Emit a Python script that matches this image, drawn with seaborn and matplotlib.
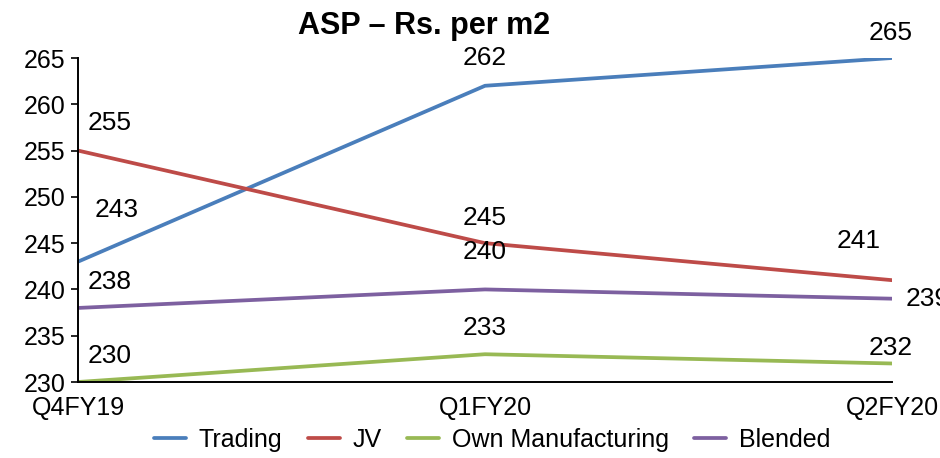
import pandas as pd
import matplotlib
matplotlib.use("Agg")
import matplotlib.pyplot as plt
import seaborn as sns

# chart data
quarters = ["Q4FY19", "Q1FY20", "Q2FY20"]
trading = [243, 262, 265]
jv = [255, 245, 241]
own_mfg = [230, 233, 232]
blended = [238, 240, 239]
series_names = ["Trading", "JV", "Own Manufacturing", "Blended"]
colors = ["#4a7ebb", "#be4b48", "#98b954", "#7d60a0"]

rows = []
for name, vals in zip(series_names, [trading, jv, own_mfg, blended]):
    for i, q in enumerate(quarters):
        rows.append({"quarter": q, "pos": i, "value": vals[i], "series": name})
df = pd.DataFrame(rows)

sns.set_style("white")
plt.rcParams["font.family"] = ["Liberation Sans", "DejaVu Sans"]
plt.rcParams["text.color"] = "black"
plt.rcParams["xtick.color"] = "black"
plt.rcParams["ytick.color"] = "black"

fig = plt.figure(figsize=(9.4, 4.58), dpi=100)
ax = fig.add_axes([78 / 940, 1 - 382 / 458, 814 / 940, 324 / 458])

sns.lineplot(data=df, x="pos", y="value", hue="series", hue_order=series_names,
             palette=colors, linewidth=2.7, ax=ax, legend=True)

# data labels: offset (points) of each label from its point
offsets = {
    "Trading": [(28, 37), (0, 20), (-1, 18)],
    "JV": [(23, 20), (0, 18), (-24, 28)],
    "Own Manufacturing": [(23, 19), (0, 19), (-1, 11)],
    "Blended": [(23, 19), (0, 27), (10, 0)],
}
for name, vals in zip(series_names, [trading, jv, own_mfg, blended]):
    for i, v in enumerate(vals):
        dx, dy = offsets[name][i]
        ha = "left" if (name == "Blended" and i == 2) else "center"
        ax.annotate(str(v), (i, v), xytext=(dx, dy), textcoords="offset points",
                    ha=ha, va="center", fontsize=19, color="black",
                    annotation_clip=False)

ax.set_xlim(0, 2)
ax.set_ylim(230, 265)
ax.set_yticks(range(230, 266, 5))
ax.set_xticks(range(len(quarters)))
ax.set_xticklabels(quarters)
ax.tick_params(axis="y", labelsize=18, length=5, width=1.2, direction="out",
               left=True, color="black", labelcolor="black", pad=4)
ax.tick_params(axis="x", labelsize=18, length=0, pad=10, labelcolor="black")
ax.set_xlabel("")
ax.set_ylabel("")
for s in ["top", "right"]:
    ax.spines[s].set_visible(False)
for s in ["left", "bottom"]:
    ax.spines[s].set_color("black")
    ax.spines[s].set_linewidth(1.4)

ax.set_title("ASP – Rs. per m2", fontsize=22, fontweight="bold", x=0.425, pad=17,
             color="black")

handles, labels = ax.get_legend_handles_labels()
ax.get_legend().remove()
leg = fig.legend(handles, labels, loc="center", bbox_to_anchor=(492 / 940, 1 - 440 / 458),
                 ncol=4, frameon=False, fontsize=18, handlelength=1.3,
                 columnspacing=1.0, handletextpad=0.5)
for t in leg.get_texts():
    t.set_color("black")

fig.savefig("out.png", dpi=100)
